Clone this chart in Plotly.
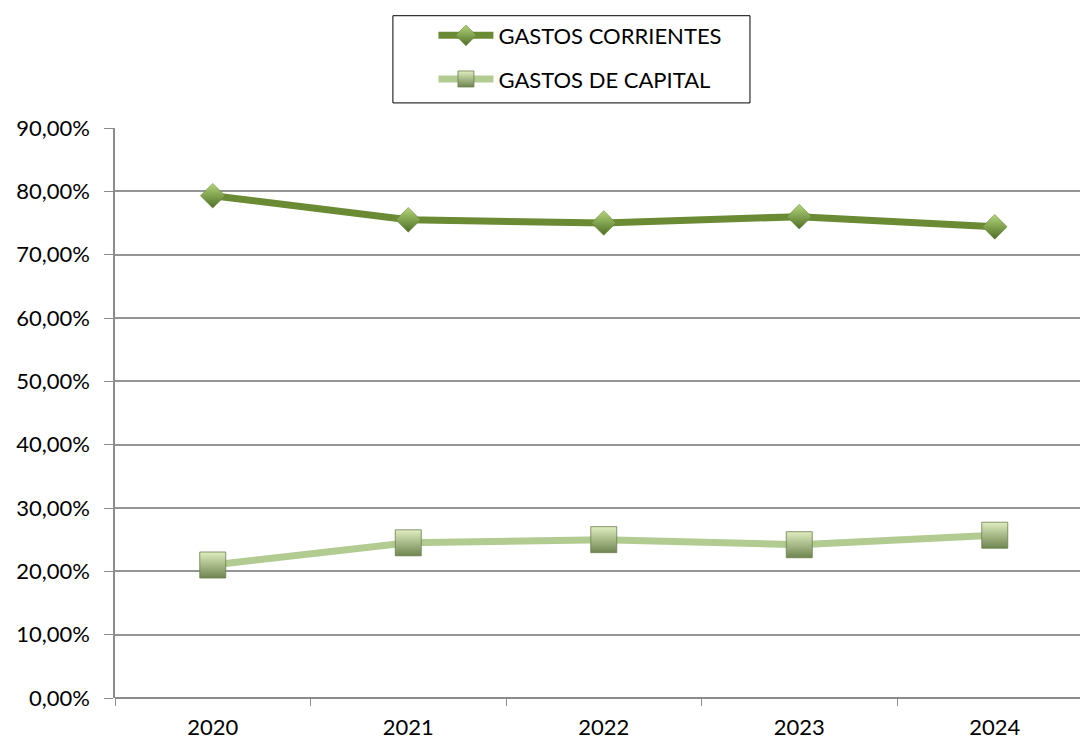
import plotly.graph_objects as go

years = ["2020", "2021", "2022", "2023", "2024"]
gastos_corrientes = [0.793, 0.755, 0.750, 0.760, 0.744]
gastos_capital = [0.210, 0.245, 0.250, 0.242, 0.257]
y_ticks = [0, 0.1, 0.2, 0.3, 0.4, 0.5, 0.6, 0.7, 0.8, 0.9]
y_tick_labels = ["0,00%", "10,00%", "20,00%", "30,00%", "40,00%", "50,00%",
                 "60,00%", "70,00%", "80,00%", "90,00%"]

FONT = "Lato, Calibri, Carlito, 'Open Sans', sans-serif"

fig = go.Figure()
fig.add_trace(go.Scatter(
    x=years, y=gastos_corrientes, name="GASTOS CORRIENTES",
    mode="lines+markers", legendgroup="a",
    line=dict(color="#6A8B34", width=7),
    marker=dict(symbol="diamond", size=19, color="#B3D67A",
                gradient=dict(type="vertical", color="#4F6E25"),
                line=dict(color="#5A7A2C", width=0.5)),
))
fig.add_trace(go.Scatter(
    x=years, y=gastos_capital, name="GASTOS DE CAPITAL",
    mode="lines+markers", legendgroup="b",
    line=dict(color="#B2CB91", width=7),
    marker=dict(symbol="square", size=26, color="#E0EEC0",
                gradient=dict(type="vertical", color="#6F8550"),
                line=dict(color="#6A7E4E", width=0.8)),
))

fig.update_layout(
    width=1080, height=742,
    margin=dict(l=115, r=0, t=128, b=44),
    paper_bgcolor="white", plot_bgcolor="white",
    font=dict(family=FONT, size=22, color="black"),
    showlegend=True,
    legend=dict(x=0.33, y=1.199, xanchor="left", yanchor="top",
                bgcolor="rgba(0,0,0,0)", borderwidth=0,
                traceorder="grouped", tracegroupgap=12,
                itemwidth=55, font=dict(family=FONT, size=22, color="black")),
    shapes=[dict(type="rect", xref="paper", yref="paper",
                 x0=0.288, x1=0.658, y0=1.044, y1=1.197,
                 line=dict(color="black", width=1), fillcolor="rgba(0,0,0,0)")],
)
fig.update_xaxes(
    type="category", range=[-0.5, 4.436],
    showgrid=False, showline=False, zeroline=False,
    ticks="outside", tickson="boundaries", ticklen=7, tickcolor="#8C8C8C",
    ticklabelstandoff=14,
    tickfont=dict(family=FONT, size=22, color="black"),
)
fig.update_yaxes(
    range=[0, 0.9], tickvals=y_ticks, ticktext=y_tick_labels,
    showgrid=True, gridcolor="#959595", gridwidth=1.5,
    showline=True, linecolor="#8C8C8C", linewidth=1.5,
    zeroline=True, zerolinecolor="#8C8C8C", zerolinewidth=1.5,
    ticks="outside", ticklen=9, tickcolor="#8C8C8C",
    ticklabelstandoff=10,
    tickfont=dict(family=FONT, size=22, color="black"),
)

fig.write_html("out.html", post_script="document.body.style.margin='0';",
               config={"displayModeBar": False})
